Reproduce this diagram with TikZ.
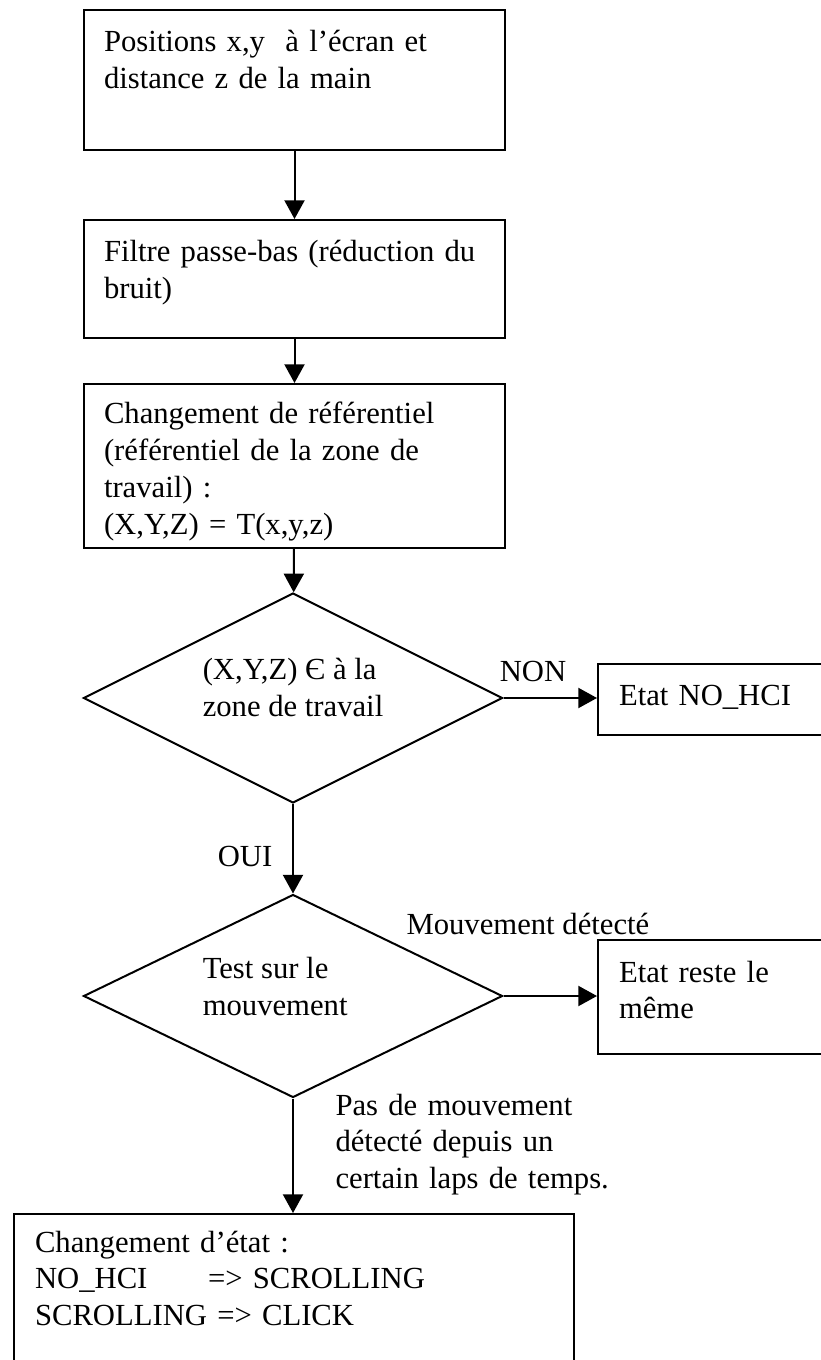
\documentclass[tikz,border=0pt]{standalone}
\usepackage{fontspec}
\setmainfont{Liberation Serif}
\usetikzlibrary{arrows.meta,shapes.geometric}
\newlength\zonelen
\begin{document}
\begin{tikzpicture}[x=0.375pt,y=-0.375pt,
  every node/.style={font=\fontsize{11.5pt}{13.8pt}\selectfont},
  procbox/.style={draw,line width=0.75pt,anchor=north west,align=left,inner ysep=0pt,inner xsep=7.5pt},
  decision/.style={draw,line width=0.75pt,diamond,aspect=2,inner sep=0pt,minimum width=157.125pt,align=left,text height=21pt},
  lbl/.style={inner sep=0pt,align=left},
  flow/.style={line width=0.75pt,-{Triangle[length=7pt,width=7.5pt]}}]
\useasboundingbox (0,0) rectangle (821,1360);
\clip (0,0) rectangle (821,1360);
\fill[white] (0,0) rectangle (821,1360);

\node[procbox,minimum width=157.875pt,text width=142.875pt,text height=15.75pt,text depth=36.75pt] (b1) at (83,9)
  {Positions x,y\ \ à l’écran et\\distance z de la main};
\node[procbox,minimum width=157.875pt,text width=142.875pt,text height=15.75pt,text depth=28.5pt] (b2) at (83,219)
  {\mbox{Filtre passe-bas (réduction du}\\bruit)};
\node[procbox,minimum width=157.875pt,text width=142.875pt,text height=15pt,text depth=46.5pt] (b3) at (83,383)
  {Changement de référentiel\\(référentiel de la zone de\\travail) :\\(X,Y,Z) = T(x,y,z)};

\node[decision,minimum height=78.75pt,text depth=7.5pt] (d1) at (293,698)
  {(X,Y,Z) Є à la\\zone de travail};
\node[procbox,inner xsep=7.875pt,minimum width=90pt,text width=74.25pt,text height=15.375pt,text depth=11.25pt] (nohci) at (597,663)
  {Etat NO\_HCI};

\node[decision,minimum height=76.125pt,text depth=6.75pt] (d2) at (293,996)
  {\settowidth{\zonelen}{zone de travail}\makebox[\zonelen][l]{Test sur le}\\mouvement};
\node[procbox,inner xsep=7.875pt,minimum width=90pt,text width=74.25pt,text height=15.75pt,text depth=27pt] (same) at (597,939)
  {Etat reste le\\même};

\node[procbox,inner xsep=7.875pt,minimum width=210pt,text width=194.25pt,text height=14.25pt,text depth=60pt] (final) at (13,1213)
  {Changement d’état :\\\makebox[64.9pt][l]{NO\_HCI}=> SCROLLING\\SCROLLING => CLICK};

\draw[flow] (b1) -- (b2);
\draw[flow] (b2) -- (b3);
\draw[flow] (b3) -- (d1);
\draw[flow] (d1.east) -- (nohci.west |- d1.east);
\draw[flow] (d1) -- (d2);
\draw[flow] (d2.east) -- (same.west |- d2.east);
\draw[flow] (d2) -- (final.north -| d2.south);

\node[lbl,anchor=base] (non) at (533,681) {NON};
\node[lbl,anchor=base] (oui) at (245,866) {OUI};
\node[lbl,anchor=base west] (mvt) at (406,934) {Mouvement détecté};
\node[lbl,anchor=base west,text width=180pt] (pas) at (335,1115)
  {Pas de mouvement\\détecté depuis un\\certain laps de temps.};
\end{tikzpicture}
\end{document}
